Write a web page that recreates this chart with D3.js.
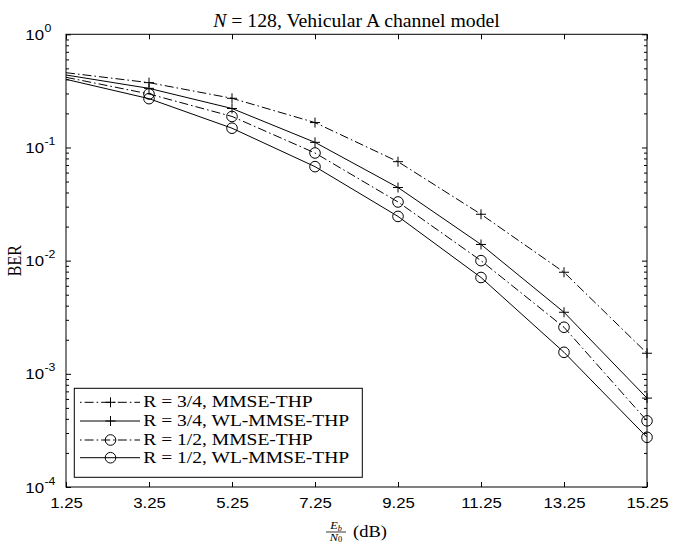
<!DOCTYPE html>
<html><head><meta charset="utf-8">
<script src="https://cdn.jsdelivr.net/npm/d3@7/dist/d3.min.js"></script>
<style>
body{margin:0;background:#fff;}
svg{display:block;}
</style></head><body>
<svg id="chart" width="673" height="542"></svg>
<script>
// ---- data ----
const snr = [1.25, 3.25, 5.25, 7.25, 9.25, 11.25, 13.25, 15.25];
const berMmse34 = [0.458, 0.374, 0.272, 0.166, 0.0749, 0.0257, 0.0079, 0.00152];
const berWl34   = [0.437, 0.333, 0.221, 0.111, 0.0443, 0.0139, 0.0035, 0.00061];
const berMmse12 = [0.417, 0.297, 0.188, 0.0894, 0.033, 0.0100, 0.00258, 0.000384];
const berWl12   = [0.400, 0.270, 0.148, 0.0677, 0.0246, 0.0071, 0.00155, 0.000275];
const seriesNames = ["R = 3/4, MMSE-THP", "R = 3/4, WL-MMSE-THP", "R = 1/2, MMSE-THP", "R = 1/2, WL-MMSE-THP"];
const xTicks = [1.25, 3.25, 5.25, 7.25, 9.25, 11.25, 13.25, 15.25];
const yTickExponents = [0, -1, -2, -3, -4];

// ---- layout ----
const W = 673, H = 542;
const L = 66, R = 647, T = 34.3, B = 487;
const SX = 1.12; // horizontal widening of glyphs seen in the reference
const svg = d3.select("#chart");
const sansFont = "'Liberation Sans', Arial, Helvetica, sans-serif";
const serifFont = "'Liberation Serif', 'Times New Roman', serif";

const x = d3.scaleLinear().domain([1.25, 15.25]).range([L, R]);
const y = d3.scaleLog().domain([1e-4, 1]).range([B, T]);

const styles = [
  {dash: "9,3,1.6,3", marker: "plus"},
  {dash: null, marker: "plus"},
  {dash: "9,3,1.6,3", marker: "circle"},
  {dash: null, marker: "circle"}
];
const seriesVals = [berMmse34, berWl34, berMmse12, berWl12];
const series = seriesNames.map((name, i) => ({
  name, style: styles[i],
  pts: snr.map((s, j) => ({x: s, y: seriesVals[i][j]}))
}));

svg.append("rect").attr("width", W).attr("height", H).attr("fill", "#fff");
svg.append("defs").append("clipPath").attr("id", "plotclip")
  .append("rect").attr("x", L).attr("y", T).attr("width", R - L).attr("height", B - T);

function stext(parent, tx, ty, sx, size, family) {
  return parent.append("text")
    .attr("transform", `translate(${tx},${ty}) scale(${sx},1)`)
    .attr("font-family", family).attr("font-size", size).attr("fill", "#000");
}

// ---- axes ----
const majorY = yTickExponents.map(e => Math.pow(10, e));
const minorY = [];
for (let e = -4; e < 0; e++) for (let k = 2; k <= 9; k++) minorY.push(k * Math.pow(10, e));

function styleAxis(g) {
  g.select(".domain").remove();
  g.selectAll(".tick line").attr("stroke", "#000").attr("stroke-width", 1);
}

svg.append("g").attr("transform", `translate(0,${B})`)
  .call(d3.axisBottom(x).tickValues(xTicks).tickSizeInner(-5).tickSizeOuter(0)
    .tickFormat(d => d.toFixed(2)))
  .call(styleAxis)
  .call(g => g.selectAll(".tick text")
    .attr("y", 21).attr("dy", null)
    .attr("transform", `scale(${SX},1)`)
    .attr("font-family", sansFont).attr("font-size", 15).attr("fill", "#000"));

svg.append("g").attr("transform", `translate(0,${T})`)
  .call(d3.axisTop(x).tickValues(xTicks).tickSizeInner(-5).tickSizeOuter(0).tickFormat(() => ""))
  .call(styleAxis);

svg.append("g").attr("transform", `translate(${L},0)`)
  .call(d3.axisLeft(y).tickValues(minorY).tickSizeInner(-3).tickSizeOuter(0).tickFormat(() => ""))
  .call(styleAxis);
svg.append("g").attr("transform", `translate(${R},0)`)
  .call(d3.axisRight(y).tickValues(minorY).tickSizeInner(-3).tickSizeOuter(0).tickFormat(() => ""))
  .call(styleAxis);
svg.append("g").attr("transform", `translate(${R},0)`)
  .call(d3.axisRight(y).tickValues(majorY).tickSizeInner(-5).tickSizeOuter(0).tickFormat(() => ""))
  .call(styleAxis);

const leftMajor = svg.append("g").attr("transform", `translate(${L},0)`)
  .call(d3.axisLeft(y).tickValues(majorY).tickSizeInner(-5).tickSizeOuter(0).tickFormat(() => ""))
  .call(styleAxis);
leftMajor.selectAll(".tick").each(function(d) {
  const e = Math.round(Math.log10(d));
  const g = d3.select(this);
  g.select("text").remove();
  stext(g, -22, 5, SX, 15, sansFont).attr("text-anchor", "end").text("10");
  stext(g, -21.5, -3, SX, 11, sansFont).attr("text-anchor", "start").text(String(e));
});

// frame
svg.append("rect").attr("x", L).attr("y", T).attr("width", R - L).attr("height", B - T)
  .attr("fill", "none").attr("stroke", "#000").attr("stroke-width", 1);

// ---- lines ----
const line = d3.line().x(d => x(d.x)).y(d => y(d.y));
const plot = svg.append("g").attr("clip-path", "url(#plotclip)");

function drawMarker(g, type, cx, cy) {
  if (type === "plus") {
    g.append("path").attr("d", `M${cx - 5},${cy}H${cx + 5}M${cx},${cy - 5}V${cy + 5}`)
      .attr("stroke", "#000").attr("stroke-width", 1).attr("fill", "none");
  } else {
    g.append("circle").attr("cx", cx).attr("cy", cy).attr("r", 5.3)
      .attr("stroke", "#000").attr("stroke-width", 1).attr("fill", "none");
  }
}

series.forEach(s => {
  plot.append("path").datum(s.pts).attr("d", line)
    .attr("fill", "none").attr("stroke", "#000").attr("stroke-width", 1)
    .attr("stroke-dasharray", s.style.dash);
});
const markers = svg.append("g");
series.forEach(s => {
  s.pts.forEach((p, j) => {
    if (j === 0) return;
    drawMarker(markers, s.style.marker, x(p.x), y(p.y));
  });
});

// ---- legend ----
const lg = svg.append("g");
lg.append("rect").attr("x", 74.3).attr("y", 388.3).attr("width", 288).attr("height", 89)
  .attr("fill", "#fff").attr("stroke", "#000").attr("stroke-width", 1);
const rowY = [402.3, 421, 440, 457.7];
series.forEach((s, i) => {
  const ry = rowY[i];
  lg.append("line").attr("x1", 80).attr("x2", 140).attr("y1", ry).attr("y2", ry)
    .attr("stroke", "#000").attr("stroke-width", 1).attr("stroke-dasharray", s.style.dash)
    .attr("stroke-dashoffset", s.style.dash ? 12 : null);
  drawMarker(lg, s.style.marker, 110.5, ry);
  stext(lg, 143.3, ry + 5, 1.15, 17, serifFont).text(s.name);
});

// ---- title ----
const title = stext(svg, (L + R) / 2, 27, 1.04, 19, serifFont).attr("text-anchor", "middle");
title.append("tspan").attr("font-style", "italic").text("N");
title.append("tspan").text(" = 128, Vehicular A channel model");

// ---- y label ----
svg.append("text").attr("transform", `translate(21,${(T + B) / 2}) rotate(-90) scale(1,${SX})`)
  .attr("text-anchor", "middle").attr("font-family", serifFont).attr("font-size", 16)
  .attr("fill", "#000").text("BER");

// ---- x label (fraction Eb/N0 (dB)) ----
const fx = 336, fb = 532;
const num = stext(svg, fx, fb - 3, SX, 11, serifFont).attr("text-anchor", "middle");
num.append("tspan").attr("font-style", "italic").text("E");
num.append("tspan").attr("font-style", "italic").attr("font-size", 7.5).attr("dy", 1.5).text("b");
svg.append("line").attr("x1", fx - 10).attr("x2", fx + 10).attr("y1", fb).attr("y2", fb)
  .attr("stroke", "#000").attr("stroke-width", 0.8);
const den = stext(svg, fx, fb + 8.5, SX, 11, serifFont).attr("text-anchor", "middle");
den.append("tspan").attr("font-style", "italic").text("N");
den.append("tspan").attr("font-size", 7.5).attr("dy", 1).text("0");
stext(svg, 353, fb + 5, SX, 16.5, serifFont).text("(dB)");
</script>
</body></html>
